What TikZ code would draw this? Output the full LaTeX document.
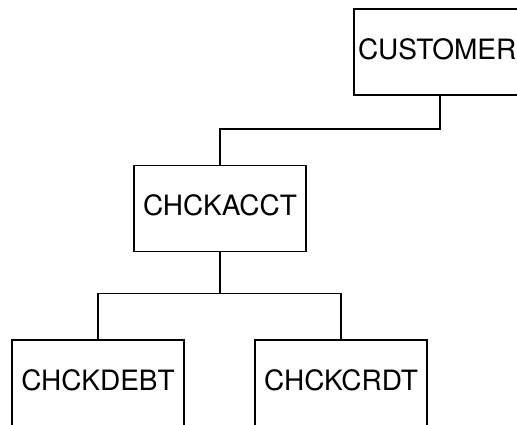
\documentclass[tikz,border=0pt]{standalone}
\usepackage{fontspec}
\setmainfont{TeX Gyre Heros}
\usepackage{tikz}
\begin{document}
\begin{tikzpicture}[x=1pt,y=-1pt,line width=1.8pt]
\tikzstyle{every node}+=[inner sep=0pt]
\tikzstyle{module}=[draw,rectangle,minimum width=172pt,minimum height=86pt,text depth=6pt,font=\fontsize{28}{33}\selectfont]
\useasboundingbox (0,0) rectangle (517,425);
\node [module,text width=164pt,align=left] (cust) at (440,52) {CUSTOMER};
\node [module] (acct) at (220,208.5) {CHCKACCT};
\node [module] (debt) at (98,383) {CHCKDEBT};
\node [module] (crdt) at (341,383) {CHCKCRDT};
\draw [black] (cust.south) -- ++(0,33) -| (acct.north);
\draw [black] (acct.south) -- ++(0,41) coordinate (split);
\draw [black] (debt.north) |- (split) -| (crdt.north);
\end{tikzpicture}
\end{document}
